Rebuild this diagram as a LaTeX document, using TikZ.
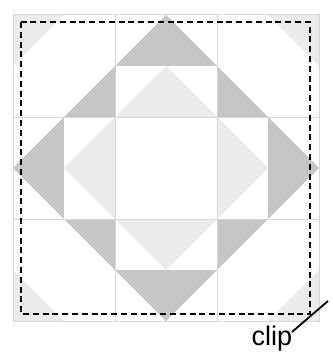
\documentclass[tikz,border=0pt]{standalone}
\usepackage{fontspec}
\setmainfont{Liberation Sans}
\definecolor{darkfill}{HTML}{C6C6C6}
\definecolor{lightfill}{HTML}{EBEBEB}
\definecolor{gridc}{HTML}{D6D6D6}
\begin{document}
\begin{tikzpicture}[x=1pt,y=-1pt,
  darkpart/.style={fill=darkfill,draw=none},
  lightpart/.style={fill=lightfill,draw=none},
  whitepart/.style={fill=white,draw=none},
  gridline/.style={draw=gridc,line width=1pt},
  cliprect/.style={draw=black,line width=2.8pt,dash pattern=on 6pt off 3.8pt},
  pointer/.style={draw=black,line width=1.8pt},
  lbl/.style={font=\fontsize{27}{29}\selectfont,inner sep=0pt,anchor=base}]
\useasboundingbox (0,0) rectangle (332,353);
% corner triangles
\fill[lightpart] (13,15) -- (64,15) -- (13,66) -- cycle;
\fill[lightpart] (319,15) -- (268,15) -- (319,66) -- cycle;
\fill[lightpart] (13,321) -- (64,321) -- (13,270) -- cycle;
\fill[lightpart] (319,321) -- (268,321) -- (319,270) -- cycle;
% dark diamond
\fill[darkpart] (166,15) -- (13,168) -- (166,321) -- (319,168) -- cycle;
% white cross
\fill[whitepart] (115,66) rectangle (217,270);
\fill[whitepart] (64,117) rectangle (268,219);
% light diamond
\fill[lightpart] (166,66) -- (64,168) -- (166,270) -- (268,168) -- cycle;
% central white square
\fill[whitepart] (115,117) rectangle (217,219);
% grid
\draw[gridline] (13,15) rectangle (319,321);
\draw[gridline] (115,15) -- (115,321) (217,15) -- (217,321)
  (13,117) -- (319,117) (13,219) -- (319,219);
% clip rectangle
\draw[cliprect] (21,22) rectangle (310,314);
% label
\node[lbl] (clip) at (272,345) {clip};
\coordinate (pa) at (292,332);
\coordinate (pb) at (328,301);
\draw[pointer] (pa) -- (pb);
\end{tikzpicture}
\end{document}
